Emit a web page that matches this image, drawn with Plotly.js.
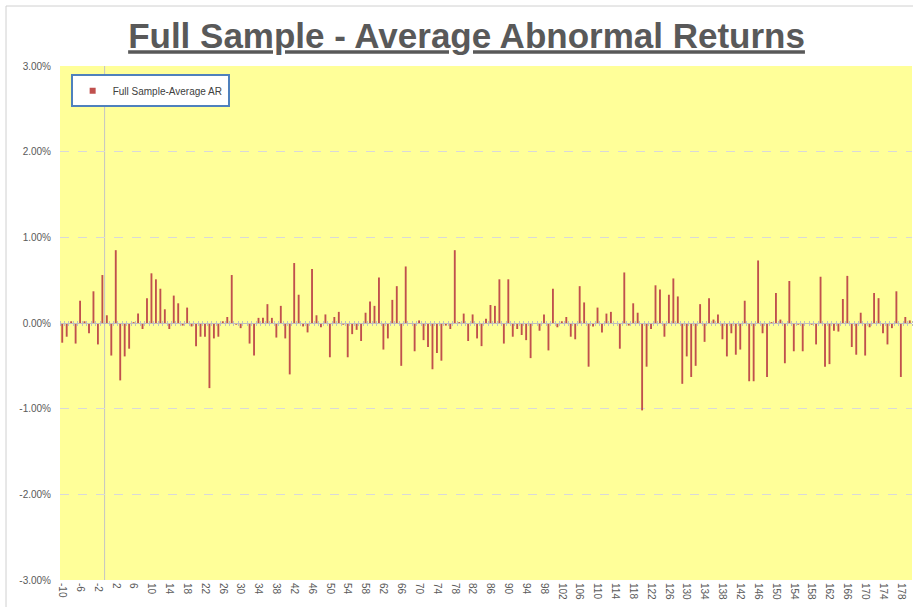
<!DOCTYPE html>
<html>
<head>
<meta charset="utf-8">
<script src="https://cdn.plot.ly/plotly-3.0.1.min.js"></script>
<style>html,body{margin:0;padding:0;background:#fff;}#chart{width:913px;height:607px;}</style>
</head>
<body>
<div id="chart"></div>
<script>
// Event days (-10 .. 180)
var firstDay = -10, lastDay = 180;
var days = [];
for (var d = firstDay; d <= lastDay; d++) days.push(d);

// Average abnormal return (%) per event day
var averageAR = [
 -0.23,-0.16, 0.02,-0.24, 0.26, 0.02,-0.12, 0.37,-0.25, 0.56,
  0.09,-0.38, 0.85,-0.67,-0.39,-0.30, 0.01, 0.11,-0.07, 0.29,
  0.58, 0.51, 0.40, 0.16,-0.07, 0.32, 0.23,-0.03, 0.18,-0.04,
 -0.27,-0.16,-0.16,-0.76,-0.18,-0.16, 0.02, 0.07, 0.56,-0.02,
 -0.06,-0.01,-0.24,-0.38, 0.06, 0.06, 0.22, 0.06,-0.17, 0.20,
 -0.18,-0.60, 0.70, 0.33,-0.04,-0.11, 0.63, 0.09,-0.05, 0.10,
 -0.40, 0.07, 0.13,-0.02,-0.40,-0.13,-0.08,-0.21, 0.12, 0.25,
  0.20, 0.53,-0.31,-0.18, 0.27, 0.43,-0.50, 0.66,-0.01,-0.33,
  0.03,-0.20,-0.28,-0.54,-0.35,-0.44,-0.03,-0.07, 0.85, 0.01,
  0.11,-0.21, 0.10,-0.18,-0.27, 0.05, 0.21, 0.20, 0.51,-0.24,
  0.51,-0.16,-0.07,-0.14,-0.20,-0.41,-0.01,-0.09, 0.10,-0.32,
  0.40,-0.05, 0.02, 0.07,-0.16,-0.19, 0.43, 0.24,-0.51,-0.04,
  0.18,-0.11, 0.11, 0.13, 0.00,-0.30, 0.59,-0.03, 0.23, 0.12,
 -1.02,-0.51,-0.07, 0.44, 0.39,-0.16, 0.33, 0.52, 0.31,-0.71,
 -0.39,-0.63,-0.50, 0.22,-0.22, 0.29, 0.04, 0.10,-0.19,-0.39,
 -0.12,-0.37,-0.31, 0.26,-0.68,-0.68, 0.73,-0.12,-0.63, 0.01,
  0.35, 0.04,-0.47, 0.49,-0.33,-0.02,-0.33,-0.01,-0.02,-0.25,
  0.54,-0.51,-0.48,-0.09,-0.10, 0.28, 0.55,-0.28,-0.37, 0.12,
 -0.38,-0.05, 0.35, 0.29,-0.12,-0.25,-0.06, 0.37,-0.63, 0.07,
  0.03
];

// X tick labels shown on the axis
var xTickVals = [-10,-6,-2,2,6,10,14,18,22,26,30,34,38,42,46,50,54,58,62,66,70,74,78,
  82,86,90,94,98,102,106,110,114,118,122,126,130,134,138,142,146,150,154,158,162,166,170,174,178];
// Y ticks (%) and their labels
var yTickVals = [-3,-2,-1,0,1,2,3];
var yTickText = ['-3.00%','-2.00%','-1.00%','0.00%','1.00%','2.00%','3.00%'];

var seriesName = 'Full Sample-Average AR';
var barColor = '#C0504D';
var textGray = '#595959';
var fontFam = 'Liberation Sans, Arial, sans-serif';

var traces = [
  {
    type: 'bar', x: days, y: averageAR, name: seriesName,
    marker: {color: barColor, line: {width: 0}}, width: 0.42,
    showlegend: false, hoverinfo: 'x+y'
  },
  {
    type: 'scatter', mode: 'markers', x: [null], y: [null], name: seriesName,
    marker: {symbol: 'square', size: 6, color: barColor},
    xaxis: 'x2', showlegend: true
  },
  {
    type: 'scatter', mode: 'markers', x: [null], y: [null],
    xaxis: 'x3', showlegend: false, hoverinfo: 'skip'
  }
];

var xRange = [firstDay - 0.5, lastDay + 0.5];
var catTicks = {
  overlaying: 'x', anchor: 'free', position: 0.5, range: xRange,
  tickmode: 'linear', tick0: firstDay - 0.5, dtick: 1,
  ticks: 'outside', ticklen: 2, tickcolor: '#BFBFBF', tickwidth: 1,
  showline: true, linecolor: '#BFBFBF', linewidth: 1,
  showticklabels: false, showgrid: false, zeroline: false, fixedrange: true
};
var catTicksTop = Object.assign({}, catTicks, {side: 'top'});

var layout = {
  width: 913, height: 607,
  margin: {l: 60, r: 1, t: 66, b: 27, pad: 0},
  paper_bgcolor: '#FFFFFF',
  plot_bgcolor: '#FFFF99',
  font: {family: fontFam, size: 10, color: textGray},
  title: {
    text: '<b><u>Full Sample - Average Abnormal Returns</u></b>',
    font: {family: fontFam, size: 35, color: textGray},
    x: 0.511, xanchor: 'center', xref: 'container',
    y: 1 - 36/607, yanchor: 'middle', yref: 'container'
  },
  xaxis: {
    range: xRange, tickmode: 'array', tickvals: xTickVals,
    ticktext: xTickVals.map(String),
    tickangle: 90, ticks: '', showgrid: false, zeroline: false,
    showline: false, automargin: false,
    tickfont: {family: fontFam, size: 10, color: textGray},
    ticklabelstandoff: 2
  },
  xaxis2: catTicks,
  xaxis3: catTicksTop,
  yaxis: {
    range: [-3, 3], tickmode: 'array', tickvals: yTickVals, ticktext: yTickText,
    showgrid: true, gridcolor: '#D9D9D9', gridwidth: 1, griddash: 'dash',
    zeroline: true, zerolinecolor: '#BFBFBF', zerolinewidth: 1,
    showline: false, ticks: '', automargin: false,
    tickfont: {family: fontFam, size: 10, color: textGray},
    ticklabelstandoff: 8
  },
  showlegend: true,
  legend: {
    x: 0.0125, y: 0.984, xanchor: 'left', yanchor: 'top',
    bgcolor: '#FFFFFF', bordercolor: '#4F81BD', borderwidth: 2,
    font: {family: fontFam, size: 10, color: '#404040'},
    itemwidth: 30, tracegroupgap: 0
  },
  shapes: [
    {type: 'line', xref: 'x', yref: 'paper', x0: -0.5, x1: -0.5, y0: 0, y1: 1,
     line: {color: '#C4C4C4', width: 1}, layer: 'below'},
    {type: 'rect', xref: 'paper', yref: 'paper',
     x0: (6-60)/852, x1: 1.02, y0: -0.1, y1: 1 + (66-6)/514,
     line: {color: '#D0D0D0', width: 1}, fillcolor: 'rgba(0,0,0,0)', layer: 'below'}
  ]
};

Plotly.newPlot('chart', traces, layout, {staticPlot: true, displayModeBar: false});
</script>
</body>
</html>
